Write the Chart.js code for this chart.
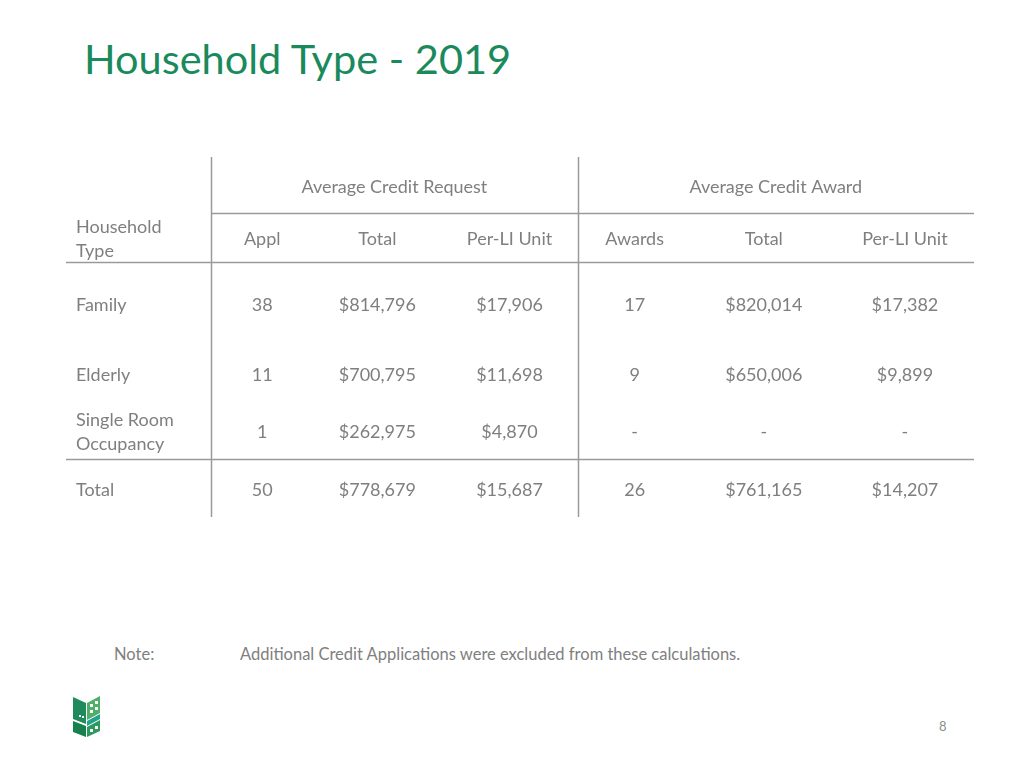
<!DOCTYPE html>
<html>
<head>
<meta charset="utf-8">
<title>Household Type - 2019</title>
<script src="https://cdn.jsdelivr.net/npm/chart.js@4.4.1/dist/chart.umd.min.js"></script>
<style>
    body { margin: 0; width: 1024px; height: 768px; background: #fff; position: relative; overflow: hidden; font-family: Lato, "Open Sans", sans-serif; }
    #title { position: absolute; left: 84px; top: 33px; font-size: 41.5px; color: #1a8a5c; white-space: nowrap; }
    #tableWrap { position: absolute; left: 66px; top: 157px; width: 908px; height: 360px; }
    .note { position: absolute; top: 644px; font-size: 16.5px; color: #808080; white-space: nowrap; }
    #page { position: absolute; left: 939px; top: 718px; font-size: 13px; color: #8c8c8c; }
    #logo { position: absolute; left: 73px; top: 694px; }
</style>
</head>
<body>
<div id="title">Household Type - 2019</div>
<div id="tableWrap"><canvas id="tableChart" width="908" height="360"></canvas></div>
<div class="note" style="left:114px">Note:</div>
<div class="note" style="left:240px">Additional Credit Applications were excluded from these calculations.</div>
<div id="page">8</div>
<svg id="logo" width="28" height="44" viewBox="0 0 28 44">
    <polygon points="0,3 13,9 13,30 0,25" fill="#1f8b5b"/>
    <polygon points="0,27 13,32 13,43 0,38" fill="#17804f"/>
    <rect x="6" y="21" width="2" height="2" fill="#fff"/>
    <rect x="9" y="22" width="2" height="2" fill="#fff"/>
    <polygon points="14,9 27,2 27,19 14,26" fill="#4fae68"/>
    <rect x="17" y="10" width="3" height="3" fill="#fff"/>
    <rect x="22" y="7" width="3" height="3" fill="#fff"/>
    <rect x="17" y="16" width="3" height="3" fill="#fff"/>
    <rect x="22" y="13" width="3" height="3" fill="#fff"/>
    <polygon points="14,27 27,20 27,25 14,32" fill="#23a08e"/>
    <polygon points="14,33 27,26 27,37 14,43" fill="#2b9a5e"/>
    <rect x="17" y="35" width="3" height="3" fill="#fff"/>
    <rect x="22" y="32" width="3" height="3" fill="#fff"/>
</svg>
<script>
// Données du tableau
const householdTypes = ["Family", "Elderly", "Single Room\nOccupancy", "Total"];
const columnGroups = ["Average Credit Request", "Average Credit Award"];
const columnLabels = ["Appl", "Total", "Per-LI Unit", "Awards", "Total", "Per-LI Unit"];
const applications = [38, 11, 1, 50];
const requestTotal = [814796, 700795, 262975, 778679];
const requestPerUnit = [17906, 11698, 4870, 15687];
const awards = [17, 9, null, 26];
const awardTotal = [820014, 650006, null, 761165];
const awardPerUnit = [17382, 9899, null, 14207];

// Mise en page (largeurs de colonnes / hauteurs de lignes)
const colWidths = [145, 102, 128, 136, 114, 144, 138];
const rowHeights = [56, 49, 82, 58, 57, 58];
const TEXT = "#7f7f7f";
const LINE = "#9a9a9a";
const FONT = "18px Lato, 'Open Sans', sans-serif";
const BASE_SHIFT = 2; // petit décalage vertical du texte

const series = [
    { values: applications, money: false },
    { values: requestTotal, money: true },
    { values: requestPerUnit, money: true },
    { values: awards, money: false },
    { values: awardTotal, money: true },
    { values: awardPerUnit, money: true },
];

function edges(sizes) {
    const out = [0];
    sizes.forEach((s) => out.push(out[out.length - 1] + s));
    return out;
}
const colEdges = edges(colWidths);
const rowEdges = edges(rowHeights);
const colMid = (i) => (colEdges[i] + colEdges[i + 1]) / 2;
const rowMid = (i) => (rowEdges[i] + rowEdges[i + 1]) / 2;

function fmt(v, money) {
    if (v === null || v === undefined) return "-";
    return money ? "$" + v.toLocaleString("en-US") : String(v);
}

const tablePlugin = {
    id: "tablePlugin",
    afterDraw(chart) {
        const { ctx } = chart;
        const xs = chart.scales.x;
        const ys = chart.scales.y;
        const X = (v) => xs.getPixelForValue(v);
        const Y = (v) => ys.getPixelForValue(v) + BASE_SHIFT;

        ctx.save();
        // lignes
        ctx.strokeStyle = LINE;
        ctx.lineWidth = 1.5;
        const hline = (y, x0, x1) => {
            const py = Math.round(ys.getPixelForValue(y)) + 0.5;
            ctx.beginPath();
            ctx.moveTo(X(x0), py);
            ctx.lineTo(X(x1), py);
            ctx.stroke();
        };
        const vline = (x, y0, y1) => {
            const px = Math.round(X(x)) + 0.5;
            ctx.beginPath();
            ctx.moveTo(px, ys.getPixelForValue(y0));
            ctx.lineTo(px, ys.getPixelForValue(y1));
            ctx.stroke();
        };
        const total = colEdges[colEdges.length - 1];
        const bottom = rowEdges[rowEdges.length - 1];
        hline(rowEdges[1], colEdges[1], total);
        hline(rowEdges[2], 0, total);
        hline(rowEdges[5], 0, total);
        vline(colEdges[1], 0, bottom);
        vline(colEdges[4], 0, bottom);

        // textes
        ctx.fillStyle = TEXT;
        ctx.font = FONT;
        ctx.textBaseline = "middle";
        ctx.textAlign = "center";
        ctx.fillText(columnGroups[0], X((colEdges[1] + colEdges[4]) / 2), Y(rowMid(0)));
        ctx.fillText(columnGroups[1], X((colEdges[4] + colEdges[7]) / 2), Y(rowMid(0)));
        columnLabels.forEach((lab, c) => ctx.fillText(lab, X(colMid(c + 1)), Y(rowMid(1))));

        const drawLabel = (text, row) => {
            const lines = text.split("\n");
            ctx.textAlign = "left";
            lines.forEach((ln, k) => {
                const off = (k - (lines.length - 1) / 2) * 24;
                ctx.fillText(ln, X(10), Y(rowMid(row)) + off);
            });
        };
        drawLabel("Household\nType", 1);
        householdTypes.forEach((h, r) => {
            drawLabel(h, r + 2);
            ctx.textAlign = "center";
            series.forEach((s, c) => {
                ctx.fillText(fmt(s.values[r], s.money), X(colMid(c + 1)), Y(rowMid(r + 2)));
            });
        });
        ctx.restore();
    },
};

new Chart(document.getElementById("tableChart"), {
    type: "scatter",
    data: {
        datasets: [{
            data: householdTypes.map((h, r) => ({ x: colMid(0), y: rowMid(r + 2) })),
            pointRadius: 0,
        }],
    },
    options: {
        responsive: false,
        animation: false,
        events: [],
        layout: { padding: 0 },
        plugins: { legend: { display: false }, tooltip: { enabled: false } },
        scales: {
            x: { type: "linear", min: 0, max: colEdges[colEdges.length - 1], display: false },
            y: { type: "linear", min: 0, max: rowEdges[rowEdges.length - 1], reverse: true, display: false },
        },
    },
    plugins: [tablePlugin],
});
</script>
</body>
</html>
